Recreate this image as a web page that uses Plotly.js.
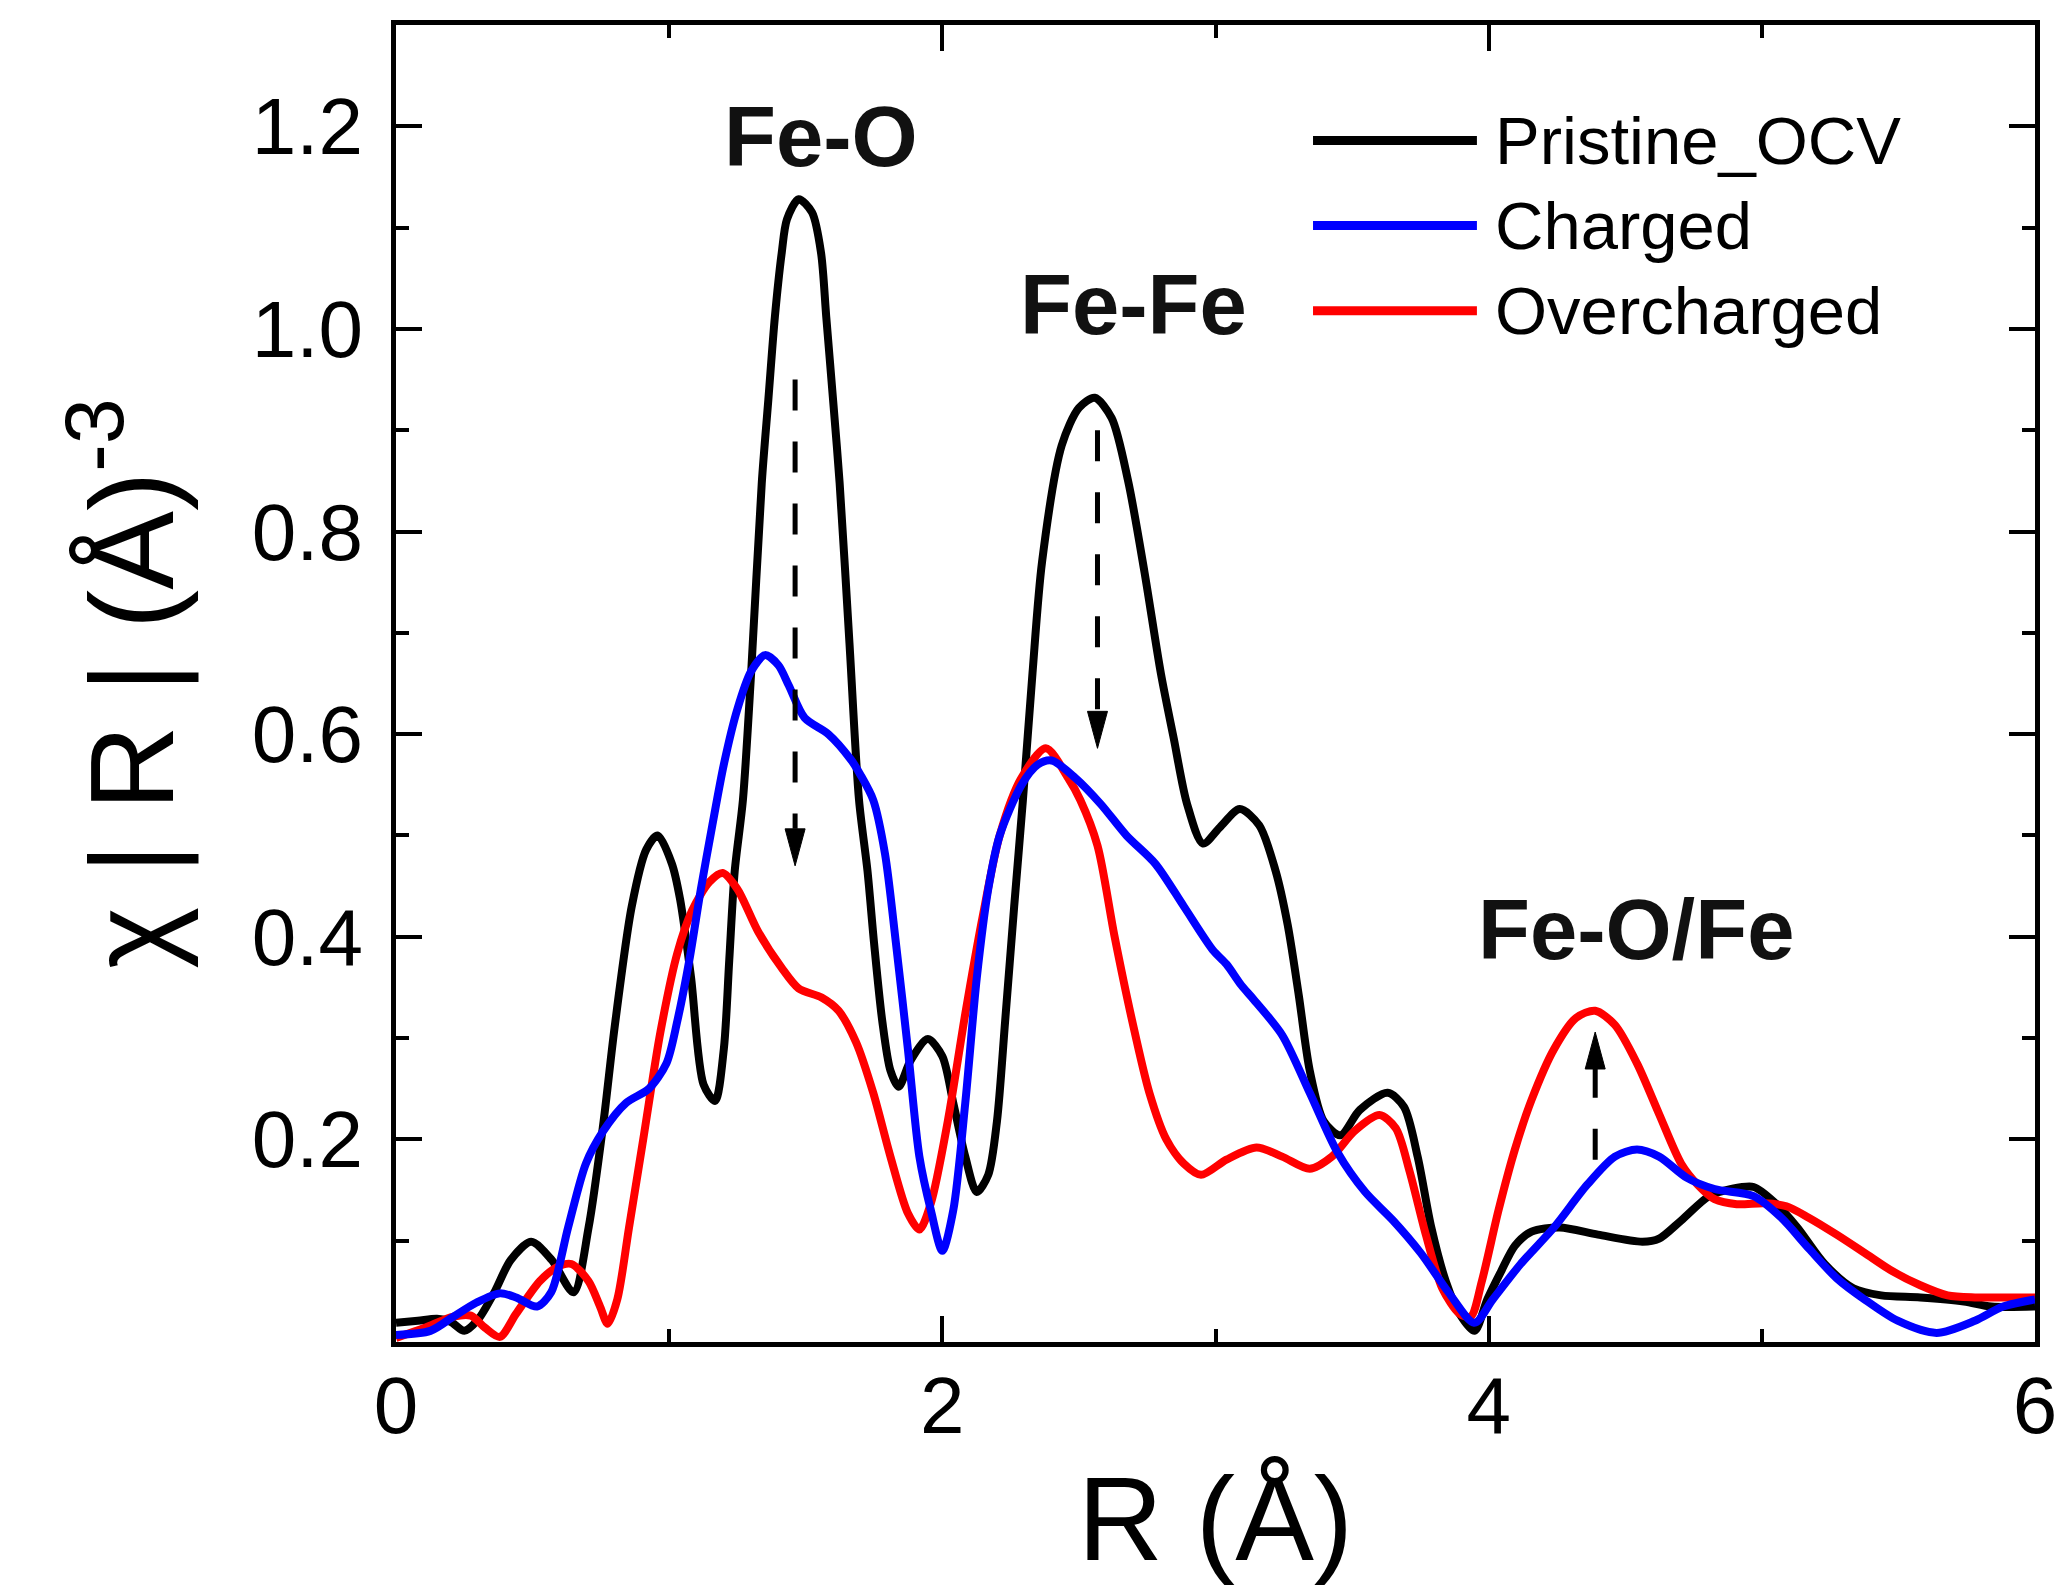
<!DOCTYPE html>
<html>
<head>
<meta charset="utf-8">
<script src="https://cdn.plot.ly/plotly-3.0.1.min.js"></script>
<style>html,body{margin:0;padding:0;background:#fff;}#chart{width:2068px;height:1586px;}</style>
</head>
<body>
<div id="chart"></div>
<script>
// ---- data ----
const seriesNames = ["Pristine_OCV", "Charged", "Overcharged"];
const seriesColors = ["#000000", "#0000FF", "#FF0000"];

const pristineR = [0.00,0.08,0.15,0.20,0.25,0.30,0.36,0.42,0.495,0.57,0.65,0.705,0.76,0.80,0.863,0.916,0.958,1.01,1.04,1.08,1.126,1.168,1.20,1.22,1.24,1.27,1.30,1.339,1.363,1.387,1.412,1.431,1.474,1.523,1.556,1.575,1.60,1.624,1.66,1.695,1.726,1.75,1.78,1.81,1.84,1.884,1.947,2.00,2.04,2.084,2.126,2.168,2.20,2.23,2.263,2.295,2.33,2.365,2.437,2.50,2.558,2.62,2.68,2.74,2.80,2.847,2.896,2.954,3.016,3.089,3.16,3.22,3.264,3.305,3.345,3.396,3.457,3.528,3.63,3.69,3.74,3.79,3.843,3.893,3.948,3.995,4.046,4.096,4.157,4.26,4.40,4.563,4.624,4.705,4.807,4.888,4.97,5.05,5.13,5.23,5.335,5.437,5.58,5.74,5.84,6.00];
const pristineV = [0.019,0.021,0.023,0.020,0.011,0.022,0.049,0.081,0.099,0.081,0.049,0.113,0.218,0.310,0.430,0.486,0.500,0.472,0.437,0.360,0.254,0.238,0.289,0.377,0.465,0.535,0.660,0.848,0.930,1.012,1.075,1.108,1.128,1.115,1.075,1.012,0.930,0.848,0.690,0.535,0.465,0.394,0.317,0.268,0.252,0.278,0.299,0.282,0.236,0.183,0.148,0.165,0.218,0.317,0.430,0.535,0.660,0.770,0.885,0.922,0.932,0.912,0.850,0.760,0.660,0.596,0.531,0.492,0.508,0.526,0.510,0.465,0.412,0.342,0.268,0.218,0.204,0.229,0.246,0.232,0.183,0.113,0.060,0.028,0.011,0.042,0.070,0.095,0.109,0.113,0.106,0.099,0.102,0.120,0.144,0.151,0.153,0.137,0.113,0.077,0.053,0.046,0.044,0.040,0.035,0.035];

const chargedR = [0.00,0.126,0.21,0.295,0.38,0.44,0.516,0.568,0.63,0.695,0.758,0.842,0.926,0.99,1.03,1.074,1.116,1.158,1.20,1.25,1.30,1.351,1.40,1.438,1.496,1.583,1.665,1.70,1.747,1.79,1.83,1.874,1.916,1.958,2.00,2.04,2.084,2.126,2.168,2.21,2.29,2.35,2.40,2.486,2.58,2.674,2.78,2.884,2.99,3.04,3.095,3.14,3.244,3.345,3.447,3.548,3.65,3.751,3.853,3.948,4.015,4.117,4.239,4.36,4.462,4.543,4.624,4.726,4.827,4.97,5.07,5.173,5.274,5.376,5.497,5.64,5.78,5.883,6.00];
const chargedV = [0.007,0.011,0.025,0.039,0.048,0.044,0.035,0.049,0.113,0.176,0.208,0.236,0.250,0.275,0.317,0.377,0.447,0.510,0.570,0.625,0.662,0.678,0.668,0.648,0.616,0.600,0.575,0.560,0.535,0.482,0.394,0.289,0.183,0.130,0.090,0.130,0.236,0.359,0.447,0.500,0.550,0.570,0.574,0.557,0.531,0.500,0.472,0.430,0.387,0.373,0.352,0.338,0.303,0.246,0.187,0.148,0.120,0.088,0.049,0.019,0.042,0.077,0.113,0.155,0.183,0.190,0.183,0.162,0.151,0.144,0.123,0.092,0.063,0.042,0.021,0.009,0.021,0.035,0.042];

const overR = [0.00,0.105,0.21,0.274,0.326,0.38,0.44,0.526,0.59,0.642,0.705,0.747,0.775,0.81,0.853,0.905,0.968,1.03,1.084,1.147,1.196,1.25,1.326,1.41,1.474,1.558,1.62,1.684,1.747,1.81,1.874,1.916,1.958,2.02,2.084,2.147,2.21,2.29,2.379,2.46,2.505,2.568,2.63,2.695,2.758,2.82,2.884,2.947,3.04,3.15,3.244,3.345,3.426,3.508,3.60,3.66,3.71,3.77,3.83,3.893,3.934,3.975,4.036,4.096,4.157,4.239,4.32,4.39,4.462,4.543,4.624,4.705,4.766,4.827,4.908,5.01,5.09,5.17,5.274,5.376,5.477,5.58,5.68,5.78,5.883,6.00];
const overV = [0.004,0.014,0.025,0.026,0.014,0.005,0.028,0.060,0.074,0.077,0.060,0.035,0.018,0.042,0.113,0.200,0.306,0.384,0.426,0.454,0.463,0.447,0.405,0.370,0.349,0.340,0.327,0.296,0.246,0.183,0.127,0.111,0.137,0.218,0.324,0.419,0.500,0.557,0.586,0.557,0.535,0.490,0.401,0.317,0.246,0.200,0.176,0.165,0.180,0.192,0.183,0.171,0.183,0.208,0.224,0.211,0.169,0.106,0.053,0.028,0.025,0.060,0.130,0.190,0.239,0.289,0.320,0.327,0.313,0.275,0.225,0.176,0.155,0.141,0.136,0.137,0.134,0.123,0.106,0.088,0.070,0.056,0.046,0.044,0.044,0.044];

const xTickVals = [0, 2, 4, 6];
const xTickText = ["0", "2", "4", "6"];
const xMinorVals = [1, 3, 5];
const yTickVals = [0.2, 0.4, 0.6, 0.8, 1.0, 1.2];
const yTickText = ["0.2", "0.4", "0.6", "0.8", "1.0", "1.2"];
const yMinorVals = [0.1, 0.3, 0.5, 0.7, 0.9, 1.1];

// peak labels and arrows
const peakLabels = ["Fe-O", "Fe-Fe", "Fe-O/Fe"];
const peakLabelX = [1.555, 2.698, 4.539];
const peakLabelY = [1.190, 1.024, 0.407];
const arrowX = [1.461, 2.568, 4.39];
const arrowFrom = [0.95, 0.90, 0.18];
const arrowTip = [0.47, 0.586, 0.306];

// legend placement (data units)
const legendLineX = [3.357, 3.957];
const legendTextX = 4.015;
const legendRowY = [1.186, 1.102, 1.018];

// ---- build ----
const FONT = "Liberation Sans, Arial, Helvetica, sans-serif";
const xs = [pristineR, chargedR, overR];
const ys = [pristineV, chargedV, overV];
const drawOrder = [0, 2, 1];
const traces = drawOrder.map(i => ({
  type: "scatter", mode: "lines", name: seriesNames[i],
  x: xs[i], y: ys[i],
  line: {color: seriesColors[i], width: 8, shape: "spline", smoothing: 0.8},
  showlegend: false, hoverinfo: "skip"
}));

const shapes = [];
const annotations = [];
const headLen = 37, headHalf = 10;
for (let k = 0; k < arrowX.length; k++) {
  const down = arrowTip[k] < arrowFrom[k];
  const baseOff = (down ? 1 : -1) * headLen / 1013.3;
  shapes.push({type: "line", xref: "x", yref: "y",
    x0: arrowX[k], x1: arrowX[k], y0: arrowFrom[k], y1: arrowTip[k] + baseOff,
    line: {color: "#000", width: 5, dash: "31px,31px"}});
  const s = down ? 1 : -1;
  shapes.push({type: "path", xref: "x", yref: "y",
    xsizemode: "pixel", ysizemode: "pixel", xanchor: arrowX[k], yanchor: arrowTip[k],
    path: "M0,0L" + (-headHalf) + "," + (s * headLen) + "L" + headHalf + "," + (s * headLen) + "Z",
    fillcolor: "#000", line: {color: "#000", width: 1}});
  annotations.push({x: peakLabelX[k], y: peakLabelY[k], xref: "x", yref: "y",
    text: "<b>" + peakLabels[k] + "</b>", showarrow: false,
    xanchor: "center", yanchor: "middle",
    font: {family: FONT, size: 85, color: "#111"}});
}
for (let i = 0; i < seriesNames.length; i++) {
  shapes.push({type: "line", xref: "x", yref: "y",
    x0: legendLineX[0], x1: legendLineX[1], y0: legendRowY[i], y1: legendRowY[i],
    line: {color: seriesColors[i], width: 9}});
  annotations.push({x: legendTextX, y: legendRowY[i], xref: "x", yref: "y",
    text: seriesNames[i], showarrow: false, xanchor: "left", yanchor: "middle",
    font: {family: FONT, size: 67, color: "#000"}});
}

const axisCommon = {
  showline: true, linecolor: "#000", linewidth: 5, mirror: "ticks",
  ticks: "inside", ticklen: 26, tickwidth: 4, tickcolor: "#000",
  showgrid: false, zeroline: false,
  tickfont: {family: FONT, size: 80, color: "#000"}
};

const layout = {
  width: 2068, height: 1586,
  margin: {l: 396, r: 33, t: 25, b: 244},
  paper_bgcolor: "#fff", plot_bgcolor: "#fff",
  font: {family: FONT, color: "#000"},
  showlegend: false,
  xaxis: Object.assign({}, axisCommon, {
    range: [0, 6], tickmode: "array", tickvals: xTickVals, ticktext: xTickText,
    ticklabelstandoff: -10,
    minor: {tickmode: "array", tickvals: xMinorVals, ticks: "inside", ticklen: 13, tickwidth: 4, tickcolor: "#000"},
    title: {text: "R (Å)", font: {family: FONT, size: 118, color: "#000"}, standoff: 30}
  }),
  yaxis: Object.assign({}, axisCommon, {
    range: [0, 1.30], tickmode: "array", tickvals: yTickVals, ticktext: yTickText,
    ticklabelstandoff: 12,
    minor: {tickmode: "array", tickvals: yMinorVals, ticks: "inside", ticklen: 13, tickwidth: 4, tickcolor: "#000"},
    title: {text: "χ | R | (Å)<sup>-3</sup>", font: {family: FONT, size: 118, color: "#000"}, standoff: 40}
  }),
  shapes: shapes,
  annotations: annotations
};

Plotly.newPlot("chart", traces, layout, {staticPlot: true, displayModeBar: false});
</script>
</body>
</html>
